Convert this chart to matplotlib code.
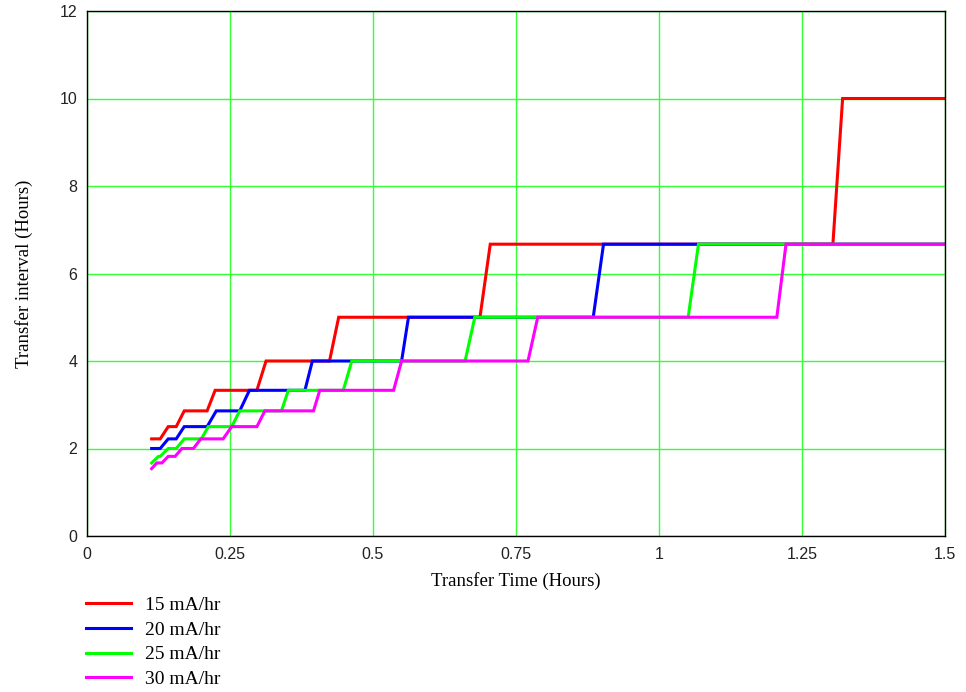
import matplotlib
matplotlib.use("Agg")
import matplotlib.pyplot as plt

# step levels (hours) and ramp start/end times (hours)
red_start = 0.113
red_levels = [2.22, 2.5, 2.86, 3.33, 4.0, 5.0, 6.67, 10.0]
red_ramps = [(0.128, 0.142), (0.156, 0.170), (0.210, 0.224), (0.297, 0.313),
             (0.424, 0.440), (0.687, 0.705), (1.304, 1.321)]

blue_start = 0.113
blue_levels = [2.0, 2.22, 2.5, 2.86, 3.33, 4.0, 5.0, 6.67]
blue_ramps = [(0.128, 0.142), (0.156, 0.170), (0.210, 0.226), (0.267, 0.284),
              (0.381, 0.394), (0.550, 0.562), (0.885, 0.903)]

green_start = 0.113
green_levels = [1.67, 1.82, 2.0, 2.22, 2.5, 2.86, 3.33, 4.0, 5.0, 6.67]
green_ramps = [(0.113, 0.125), (0.128, 0.142), (0.156, 0.170), (0.200, 0.212),
               (0.253, 0.267), (0.340, 0.352), (0.448, 0.463), (0.661, 0.678),
               (1.051, 1.069)]

magenta_start = 0.113
magenta_levels = [1.54, 1.67, 1.82, 2.0, 2.22, 2.5, 2.86, 3.33, 4.0, 5.0, 6.67]
magenta_ramps = [(0.113, 0.122), (0.131, 0.142), (0.154, 0.166), (0.186, 0.199),
                 (0.238, 0.253), (0.297, 0.311), (0.396, 0.407), (0.536, 0.550),
                 (0.771, 0.788), (1.206, 1.222)]

x_end = 1.5
labels = ["15 mA/hr", "20 mA/hr", "25 mA/hr", "30 mA/hr"]
colors = ["#ff0000", "#0000ff", "#00ff00", "#ff00ff"]


def step_path(start, levels, ramps):
    xs, ys = [start], [levels[0]]
    for i, (a, b) in enumerate(ramps):
        xs += [a, b]
        ys += [levels[i], levels[i + 1]]
    xs.append(x_end)
    ys.append(levels[-1])
    return xs, ys


series = [(red_start, red_levels, red_ramps),
          (blue_start, blue_levels, blue_ramps),
          (green_start, green_levels, green_ramps),
          (magenta_start, magenta_levels, magenta_ramps)]

fig = plt.figure(figsize=(9.66, 6.92), dpi=100)
ax = fig.add_axes([87 / 966, 1 - 536 / 692, 858 / 966, 525 / 692])

for (s, lv, rp), lab, c in zip(series, labels, colors):
    xs, ys = step_path(s, lv, rp)
    ax.plot(xs, ys, color=c, lw=2.2, label=lab, solid_joinstyle="miter")

ax.set_xlim(0, 1.5)
ax.set_ylim(0, 12)
ax.set_xticks([0, 0.25, 0.5, 0.75, 1, 1.25, 1.5])
ax.set_xticklabels(["0", "0.25", "0.5", "0.75", "1", "1.25", "1.5"])
ax.set_yticks(range(0, 13, 2))
ax.grid(True, color="#33ff33", lw=1.0)
ax.set_axisbelow(True)
ax.tick_params(length=0, labelsize=11.5, pad=8, labelcolor="#222222")
ax.tick_params(axis="y", pad=7)
for t in ax.get_xticklabels() + ax.get_yticklabels():
    t.set_family("Liberation Sans")
for sp in ax.spines.values():
    sp.set_color("black")
    sp.set_linewidth(1.0)

serif = "Liberation Serif"
ax.set_xlabel("Transfer Time (Hours)", family=serif, fontsize=13.5, labelpad=7)
ax.set_ylabel("Transfer interval (Hours)", family=serif, fontsize=13.5, labelpad=19)

fig.legend(loc="upper left", bbox_to_anchor=(0.089, 0.138), frameon=False,
           prop={"family": serif, "size": 14}, handlelength=2.3,
           handletextpad=0.75, labelspacing=0.36, borderpad=0, borderaxespad=0)

fig.savefig("out.png", dpi=100)
